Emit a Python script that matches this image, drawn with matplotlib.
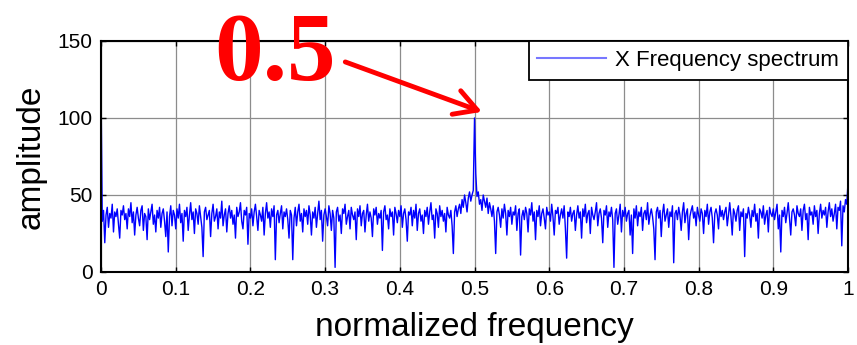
import numpy as np
import matplotlib
matplotlib.use('Agg')
import matplotlib.pyplot as plt

# amplitude, frequency steps of 1/600
amp_low = [
    118, 33, 40, 19, 37, 42, 29, 38, 35, 44, 26, 39, 36, 41, 31, 22, 40, 37, 43, 34,
    38, 28, 41, 36, 45, 32, 39, 24, 37, 42, 35, 30, 40, 43, 27, 38, 36, 21, 41, 34,
    39, 44, 31, 37, 26, 40, 35, 42, 29, 38, 41, 33, 23, 39, 13, 36, 43, 30, 40, 37,
    28, 41, 35, 44, 32, 38, 20, 40, 36, 42, 27, 37, 45, 34, 39, 25, 41, 38, 31, 43,
    36, 29, 10, 39, 42, 34, 37, 40, 23, 38, 44, 33, 36, 41, 28, 39, 35, 46, 30, 37,
    41, 26, 38, 43, 35, 40, 31, 37, 22, 42, 36, 39, 45, 33, 28, 40, 37, 42, 18, 38,
    35, 41, 30, 39, 44, 36, 27, 40, 37, 33, 42, 24, 38, 45, 35, 39, 29, 41, 36, 43,
    8, 37, 40, 32, 38, 43, 28, 39, 36, 41, 34, 22, 40, 37, 8, 35, 42, 30, 39, 44,
    33, 38, 26, 41, 36, 40, 31, 43, 37, 24, 39, 35, 42, 29, 38, 46, 34, 40, 20, 37,
    41, 36, 30, 43, 38, 27, 40, 35, 3, 39, 42, 33, 37, 25, 41, 38, 44, 31, 36, 40,
    28, 42, 37, 34, 39, 21, 41, 36, 43, 30, 38, 40, 26, 37, 44, 33, 39, 35, 23, 41,
    37, 42, 31, 38, 35, 40, 14, 39, 43, 34, 37, 28, 41, 36, 39, 24, 42, 38, 32, 40,
    36, 43, 29, 38, 41, 34, 20, 39, 37, 42, 30, 40, 35, 44, 27, 38, 41, 33, 37, 25,
    40, 36, 42, 31, 39, 45, 34, 37, 22, 41, 38, 29, 43, 36, 40, 33, 38, 26, 42, 37,
    35, 40, 30, 12, 39, 43, 36, 41, 44, 38, 47, 42, 50, 45, 39, 48, 52, 46, 50, 53,
]
amp_high = [
    100, 64, 49, 52, 44, 47, 40, 50, 46, 42, 48, 38, 45, 41, 36, 43, 33, 12, 39, 42,
    37, 29, 41, 35, 44, 38, 24, 40, 36, 42, 31, 39, 37, 43, 27, 38, 41, 11, 36, 40,
    34, 42, 38, 26, 41, 37, 45, 33, 39, 21, 40, 36, 43, 30, 38, 41, 35, 28, 42, 37,
    39, 33, 44, 36, 24, 40, 38, 42, 31, 37, 41, 35, 43, 28, 9, 39, 36, 42, 33, 38,
    40, 27, 37, 43, 35, 39, 22, 41, 36, 44, 32, 38, 40, 25, 42, 37, 34, 39, 45, 30,
    38, 41, 35, 19, 40, 37, 43, 29, 39, 36, 42, 34, 3, 38, 41, 31, 37, 44, 26, 40,
    36, 42, 33, 38, 40, 24, 37, 12, 41, 35, 43, 30, 39, 36, 42, 27, 38, 40, 34, 45,
    31, 37, 41, 36, 28, 8, 39, 42, 35, 40, 23, 38, 44, 33, 37, 41, 29, 39, 36, 43,
    6, 38, 40, 34, 42, 37, 27, 39, 45, 32, 38, 41, 21, 36, 40, 43, 35, 39, 30, 42,
    37, 33, 41, 38, 25, 40, 36, 44, 31, 39, 42, 35, 19, 38, 41, 37, 28, 43, 36, 40,
    34, 39, 42, 30, 37, 45, 36, 24, 41, 38, 33, 40, 43, 27, 39, 36, 41, 10, 38, 35,
    42, 37, 29, 40, 36, 44, 33, 38, 22, 41, 39, 35, 43, 31, 37, 40, 26, 42, 38, 36,
    41, 34, 39, 44, 28, 37, 13, 40, 36, 42, 32, 38, 45, 35, 24, 39, 41, 37, 30, 43,
    38, 36, 41, 27, 40, 44, 34, 38, 21, 42, 37, 39, 31, 43, 36, 40, 25, 38, 44, 35,
    40, 37, 42, 29, 39, 45, 36, 41, 33, 38, 44, 28, 42, 40, 46, 17, 43, 39, 47, 44,
    58,
]
amplitude = np.array(amp_low + amp_high)
freq = np.linspace(0, 1, len(amplitude))

xticks = [0, 0.1, 0.2, 0.3, 0.4, 0.5, 0.6, 0.7, 0.8, 0.9, 1]
xtick_labels = ['0', '0.1', '0.2', '0.3', '0.4', '0.5', '0.6', '0.7', '0.8', '0.9', '1']
yticks = [0, 50, 100, 150]

plt.rcParams['font.family'] = ['Liberation Sans', 'DejaVu Sans']

fig = plt.figure(figsize=(8.57, 3.45), dpi=100)
ax = fig.add_axes([0.1179, 0.2116, 0.8716, 0.6696])

ax.plot(freq, amplitude, color='#0000ff', lw=1.0, label='X Frequency spectrum')

ax.set_xlim(0, 1)
ax.set_ylim(0, 150)
ax.set_xticks(xticks)
ax.set_xticklabels(xtick_labels)
ax.set_yticks(yticks)
ax.tick_params(direction='in', top=True, right=True, length=3.5, width=1,
               labelsize=15, pad=6)
ax.grid(True, color='0.55', lw=0.9)
for s in ax.spines.values():
    s.set_linewidth(1.5)

ax.set_xlabel('normalized frequency', fontsize=24, labelpad=9)
ax.set_ylabel('amplitude', fontsize=24, labelpad=8)

leg = ax.legend(loc='upper right', borderaxespad=0, fancybox=False,
                fontsize=16, handlelength=3.1, handletextpad=0.4, framealpha=1)
leg.get_frame().set_edgecolor('black')
leg.get_frame().set_linewidth(1.3)
leg.get_lines()[0].set_color('#7777ff')
leg.get_lines()[0].set_linewidth(1.5)

# red "0.5" note with arrow to the peak
ax.text(0.233, 124.7, '0.5', color='red', fontsize=70, fontweight='bold',
        family='Liberation Serif', ha='center', va='baseline', clip_on=False)
ax.annotate('', xy=(0.51, 104), xytext=(0.327, 136.4), annotation_clip=False,
            arrowprops=dict(arrowstyle='->,head_length=0.8,head_width=0.45',
                            color='red', lw=3.5, shrinkA=0, shrinkB=0,
                            mutation_scale=20))

fig.savefig('out.png', dpi=100)
